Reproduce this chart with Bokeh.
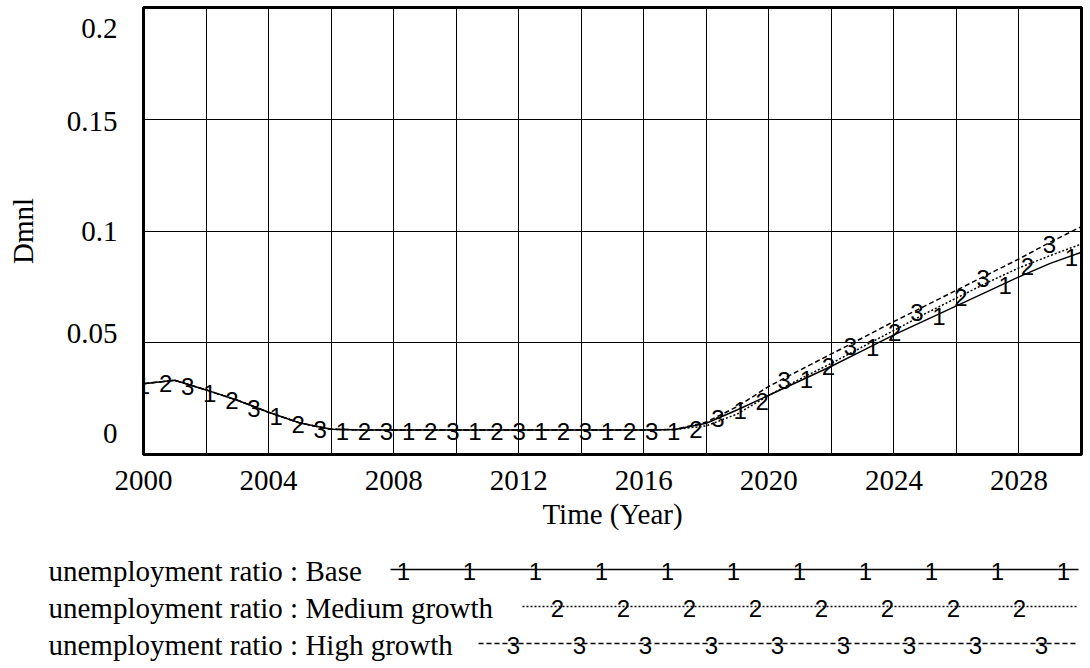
import numpy as np
from bokeh.plotting import figure
from bokeh.models import FixedTicker, Range1d, CustomJSTickFormatter
from bokeh.embed import file_html
from bokeh.resources import INLINE
from bokeh.core.properties import value

# ---------------- data ----------------
years = list(range(2000, 2031))
base = [0.0317, 0.0332, 0.0289, 0.0243, 0.0189, 0.0141, 0.0113, 0.0110, 0.0110, 0.0110,
        0.0110, 0.0110, 0.0110, 0.0110, 0.0110, 0.0110, 0.0110, 0.0112, 0.0140, 0.0200,
        0.0265, 0.0330, 0.0395, 0.0465, 0.0535, 0.0600, 0.0665, 0.0730, 0.0795, 0.0855,
        0.0905]
medium = [0.0317, 0.0332, 0.0289, 0.0243, 0.0189, 0.0141, 0.0113, 0.0110, 0.0110, 0.0110,
          0.0110, 0.0110, 0.0110, 0.0110, 0.0110, 0.0110, 0.0110, 0.0112, 0.0128, 0.0182,
          0.0265, 0.0338, 0.0408, 0.0482, 0.0555, 0.0630, 0.0700, 0.0770, 0.0835, 0.0890,
          0.0942]
high = [0.0317, 0.0332, 0.0289, 0.0243, 0.0189, 0.0141, 0.0113, 0.0110, 0.0110, 0.0110,
        0.0110, 0.0110, 0.0110, 0.0110, 0.0110, 0.0110, 0.0110, 0.0112, 0.0145, 0.0215,
        0.0305, 0.0378, 0.0450, 0.0522, 0.0595, 0.0665, 0.0735, 0.0805, 0.0875, 0.0950,
        0.1020]
series_names = ["unemployment ratio : Base",
                "unemployment ratio : Medium growth",
                "unemployment ratio : High growth"]
series_marks = ["1", "2", "3"]

x_tick_values = [2000, 2004, 2008, 2012, 2016, 2020, 2024, 2028]
x_grid_values = list(range(2002, 2030, 2))
y_tick_values = [0, 0.05, 0.1, 0.15, 0.2]
y_tick_labels = ["0", "0.05", "0.1", "0.15", "0.2"]
y_grid_values = [0.05, 0.1, 0.15]

# ---------------- styles ----------------
SERIF = "Liberation Serif"
SANS = "Liberation Sans"
FS = "29px"
MARK_FS = "24px"
dashes = ["solid", "2 2", "5 3"]
widths = [1.5, 1.5, 1.5]

X0, X1 = 2000, 2030
Y0, Y1 = 0, 0.2
TOP, BOTTOM, LEFT, RIGHT = 7, 454, 143, 1081
FIG_H = 540
frame_h = BOTTOM - TOP
px = (Y1 - Y0) / frame_h
# vertical nudge (px, positive = up) of the y tick labels, as in the original
y_label_nudge = [21, 9, 0, -2, -21]
y_label_pos = [v + n * px for v, n in zip(y_tick_values, y_label_nudge)]

p = figure(width=RIGHT + 3, height=FIG_H, x_range=Range1d(X0, X1), y_range=Range1d(Y0, Y1),
           output_backend="svg", toolbar_location=None,
           min_border_left=LEFT, min_border_right=3, min_border_top=TOP,
           min_border_bottom=FIG_H - BOTTOM)
p.background_fill_color = "white"
p.border_fill_color = "white"
p.outline_line_color = "black"
p.outline_line_width = 3

p.xgrid.ticker = FixedTicker(ticks=x_grid_values)
p.ygrid.ticker = FixedTicker(ticks=y_grid_values)
for g in (p.xgrid, p.ygrid):
    g.grid_line_color = "black"
    g.grid_line_width = 1
    g.grid_line_alpha = 1

for ax in (p.xaxis, p.yaxis):
    ax.axis_line_color = None
    ax.major_tick_out = 0
    ax.major_tick_in = 0
    ax.minor_tick_out = 0
    ax.minor_tick_in = 0
    ax.major_label_text_font = SERIF
    ax.major_label_text_font_size = FS
    ax.major_label_text_color = "black"
    ax.axis_label_text_font = SERIF
    ax.axis_label_text_font_size = FS
    ax.axis_label_text_font_style = "normal"
    ax.axis_label_text_color = "black"

p.xaxis.ticker = FixedTicker(ticks=x_tick_values)
p.xaxis.major_label_standoff = 16
p.xaxis.axis_label = "Time (Year)"
p.xaxis.axis_label_standoff = 5

p.yaxis.ticker = FixedTicker(ticks=y_label_pos)
p.yaxis.formatter = CustomJSTickFormatter(args=dict(labels=y_tick_labels),
                                          code="return labels[index];")
p.yaxis.major_label_standoff = 26
p.yaxis.axis_label = "Dmnl"
p.yaxis.axis_label_standoff = 25

all_series = [base, medium, high]
for i, ys in enumerate(all_series):
    p.line(years, ys, line_color="black", line_width=widths[i], line_dash=dashes[i])

# numbered markers along the lines, cycling 1,2,3
step = 2.12
for i, ys in enumerate(all_series):
    mx = np.arange(X0 + i * step / 3.0, X1 + 1e-6, step)
    my = np.interp(mx, years, ys)
    p.text(x=mx, y=my, text=[series_marks[i]] * len(mx), text_font=value(SANS),
           text_font_size=MARK_FS, text_align="center", text_baseline="middle",
           y_offset=2, text_color="black")

# ---------------- legend (page-pixel space) ----------------
LEG_H = 127
leg = figure(width=RIGHT + 3, height=LEG_H, x_range=Range1d(0, RIGHT + 3),
             y_range=Range1d(FIG_H + LEG_H, FIG_H),
             output_backend="svg", toolbar_location=None,
             min_border=0, x_axis_type=None, y_axis_type=None)
leg.outline_line_color = None
leg.grid.visible = False
leg.background_fill_color = "white"
leg.border_fill_color = "white"

row_y = [569, 606, 643]
line_start = [390, 522, 478]
line_end = 1078
first_mark = [403, 557, 513]
mark_step = 66
leg.text(x=[48] * 3, y=[r + 1 for r in row_y], text=series_names, text_font=value(SERIF),
         text_font_size=FS, text_align="left", text_baseline="middle", text_color="black")
for i in range(3):
    leg.line([line_start[i], line_end], [row_y[i], row_y[i]], line_color="black",
             line_width=widths[i], line_dash=dashes[i])
    mx = np.arange(first_mark[i], line_end, mark_step)
    leg.text(x=mx, y=[row_y[i]] * len(mx), text=[series_marks[i]] * len(mx),
             text_font=value(SANS), text_font_size=MARK_FS, text_align="center",
             text_baseline="middle", y_offset=2, text_color="black")

open("out.html", "w").write(file_html([p, leg], INLINE))
